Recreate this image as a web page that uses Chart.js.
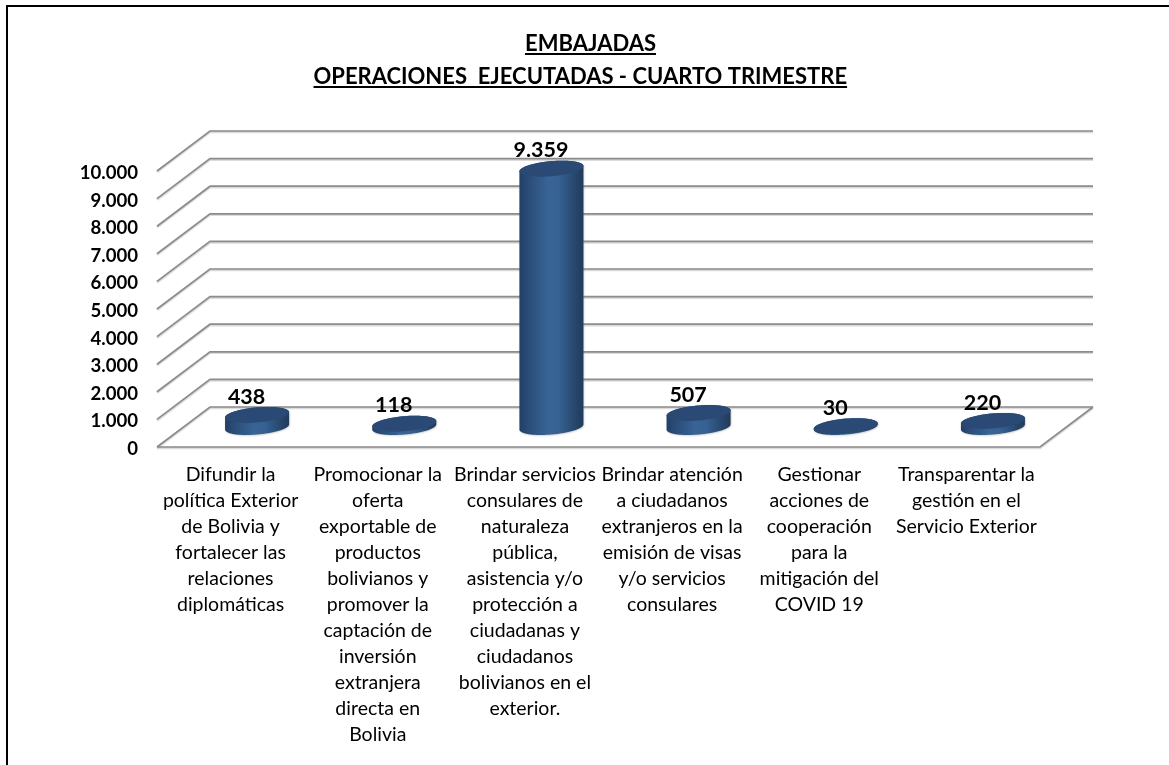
<!DOCTYPE html>
<html>
<head>
<meta charset="utf-8">
<style>html,body{margin:0;padding:0;background:#fff}canvas{display:block}#w{width:1169px;height:765px;position:relative}</style>
<script src="https://cdn.jsdelivr.net/npm/chart.js@4"></script>
</head>
<body>
<div id="w"><canvas id="c"></canvas></div>
<script>
const titleLines = ['EMBAJADAS', 'OPERACIONES  EJECUTADAS - CUARTO TRIMESTRE'];
const categories = [
  ['Difundir la','política Exterior','de Bolivia y','fortalecer las','relaciones','diplomáticas'],
  ['Promocionar la','oferta','exportable de','productos','bolivianos y','promover la','captación de','inversión','extranjera','directa en','Bolivia'],
  ['Brindar servicios','consulares de','naturaleza','pública,','asistencia y/o','protección a','ciudadanas y','ciudadanos','bolivianos en el','exterior.'],
  ['Brindar atención','a ciudadanos','extranjeros en la','emisión de visas','y/o servicios','consulares'],
  ['Gestionar','acciones de','cooperación','para la','mitigación del','COVID 19'],
  ['Transparentar la','gestión en el','Servicio Exterior']
];
const values = [438, 118, 9359, 507, 30, 220];
const axisMax = 10000;
const axisStep = 1000;

const FONT = 'Lato, Carlito, Calibri, sans-serif';
const DEPTH_X = 53, DEPTH_Y = 40;
const fmt = v => String(v).replace(/\B(?=(\d{3})+$)/g, '.');

function lineWithHalo(ctx, pts){
  ctx.lineJoin = 'miter';
  ctx.beginPath(); pts.forEach((p,i)=> i?ctx.lineTo(p[0],p[1]+1):ctx.moveTo(p[0],p[1]+1));
  ctx.strokeStyle = 'rgba(190,190,190,0.55)'; ctx.lineWidth = 2.6; ctx.stroke();
  ctx.beginPath(); pts.forEach((p,i)=> i?ctx.lineTo(p[0],p[1]):ctx.moveTo(p[0],p[1]));
  ctx.strokeStyle = '#8c8c8c'; ctx.lineWidth = 1.7; ctx.stroke();
}

const scene3d = {
  id: 'scene3d',
  beforeDatasetsDraw(chart){
    const {ctx, chartArea:a, scales:{y}} = chart;
    ctx.save();
    // page frame: top and left rule only
    ctx.fillStyle = '#000';
    ctx.fillRect(6, 5, 1163, 2);
    ctx.fillRect(6, 5, 2, 760);
    // title, with its underlines
    ctx.font = 'bold 22px ' + FONT;
    ctx.textAlign = 'left'; ctx.textBaseline = 'alphabetic';
    [[titleLines[0], 525, 50.7, 53],[titleLines[1], 313.5, 83.6, 86]].forEach(([s, xx, yy, uy]) => {
      const w = ctx.measureText(s).width;
      ctx.fillText(s, xx, yy);
      ctx.fillRect(xx, uy, w, 2);
    });
    // side and back walls
    y.ticks.forEach(t => {
      const py = y.getPixelForValue(t.value);
      lineWithHalo(ctx, [[a.left, py],[a.left+DEPTH_X, py-DEPTH_Y],[a.right+DEPTH_X, py-DEPTH_Y]]);
    });
    // floor
    const b = y.getPixelForValue(0);
    lineWithHalo(ctx, [[a.left, b],[a.right, b],[a.right+DEPTH_X, b-DEPTH_Y]]);
    ctx.restore();
  },
  afterDatasetsDraw(chart){
    const {ctx} = chart;
    const meta = chart.getDatasetMeta(0);
    const A = 30.2, S = 10.6, H = 8;
    const t0 = Math.atan2(S, A);
    const ex = (cx, cy, t) => [cx + A*Math.cos(t) + S*Math.sin(t), cy - H*Math.sin(t)];
    ctx.save();
    meta.data.forEach((el, i) => {
      const cx = el.x + DEPTH_X/2, top = el.y - DEPTH_Y/2, base = el.base - DEPTH_Y/2;
      const hw = Math.hypot(A, S);
      ctx.shadowColor = 'rgba(120,120,120,0.45)'; ctx.shadowBlur = 2; ctx.shadowOffsetX = 0.6; ctx.shadowOffsetY = 0.6;
      const g = ctx.createLinearGradient(cx-hw, 0, cx+hw, 0);
      g.addColorStop(0, '#223f66'); g.addColorStop(0.12, '#294b76');
      g.addColorStop(0.45, '#386496'); g.addColorStop(0.62, '#366192');
      g.addColorStop(0.9, '#254467'); g.addColorStop(1, '#213b5c');
      ctx.fillStyle = g;
      ctx.beginPath();
      for (let k=0;k<=40;k++){ const p = ex(cx, base, Math.PI+t0 + (Math.PI*k/40)); k?ctx.lineTo(p[0],p[1]):ctx.moveTo(p[0],p[1]); }
      for (let k=0;k<=40;k++){ const p = ex(cx, top, t0 + (Math.PI*k/40)); ctx.lineTo(p[0],p[1]); }
      ctx.closePath(); ctx.fill();
      ctx.shadowColor = 'transparent'; ctx.shadowBlur = 0; ctx.shadowOffsetX = 0; ctx.shadowOffsetY = 0;
      // top cap
      ctx.fillStyle = '#2a4a75';
      ctx.beginPath();
      for (let k=0;k<=80;k++){ const p = ex(cx, top, 2*Math.PI*k/80); k?ctx.lineTo(p[0],p[1]):ctx.moveTo(p[0],p[1]); }
      ctx.closePath(); ctx.fill();
      // value label
      ctx.fillStyle = '#000';
      ctx.font = 'bold 21.5px ' + FONT;
      ctx.textAlign = 'center'; ctx.textBaseline = 'middle';
      ctx.fillText(fmt(values[i]), cx - 10.5, top - 18.3);
    });
    ctx.restore();
  }
};

new Chart(document.getElementById('c'), {
  type: 'bar',
  data: {
    labels: categories,
    datasets: [{ data: values, backgroundColor: 'rgba(0,0,0,0)', borderWidth: 0 }]
  },
  plugins: [scene3d],
  options: {
    responsive: true,
    maintainAspectRatio: false,
    animation: false,
    devicePixelRatio: 1,
    layout: { padding: { left: 10, right: 129, top: 171, bottom: 18 } },
    plugins: {
      legend: { display: false },
      tooltip: { enabled: false },
      title: { display: false }
    },
    scales: {
      x: {
        grid: { display: false, drawTicks: false },
        border: { display: false },
        afterFit(s){ s.height = 300; },
        ticks: {
          color: '#000', maxRotation: 0, minRotation: 0, autoSkip: false, padding: 15,
          font: { family: FONT, size: 19.5, lineHeight: 1.33 }
        }
      },
      y: {
        min: 0, max: axisMax,
        afterFit(s){ s.width = 147; },
        grid: { display: false, drawTicks: false },
        border: { display: false },
        ticks: {
          stepSize: axisStep, color: '#000', padding: 19, labelOffset: 2,
          callback: v => fmt(v),
          font: { family: FONT, size: 18.6, weight: 'bold' }
        }
      }
    }
  }
});
</script>
</body>
</html>
